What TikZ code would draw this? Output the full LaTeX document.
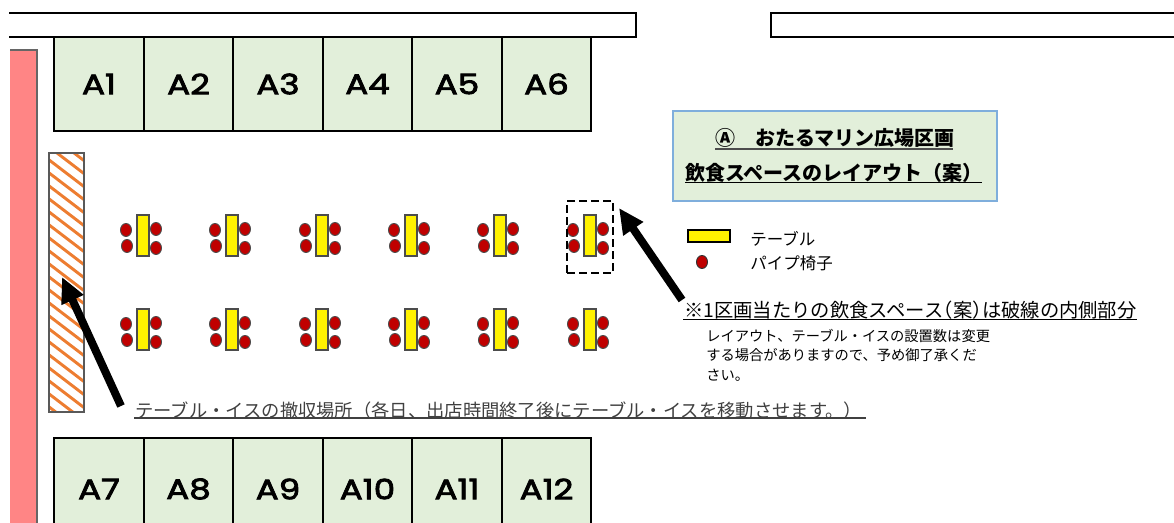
\documentclass[tikz,border=0pt]{standalone}
\usepackage{fontspec}
\setmainfont{Noto Sans CJK JP}
\newfontfamily\labfont[FakeStretch=1.22,FakeBold=3]{Poppins}
\usetikzlibrary{arrows.meta}
\definecolor{cellgreen}{HTML}{E2EFDA}
\definecolor{pinkbar}{HTML}{FF8585}
\definecolor{chairred}{HTML}{C00000}
\definecolor{hatchor}{HTML}{ED7D31}
\definecolor{boxblue}{HTML}{7FAEDC}
\definecolor{greytext}{HTML}{404040}
\newcommand{\px}[1]{\fontsize{\the\dimexpr#1pt*3/4\relax}{\the\dimexpr#1pt*9/10\relax}\selectfont}
\tikzset{
  x=0.75pt,y=-0.75pt,
  cell/.style={draw=black,line width=1.6pt,fill=cellgreen,minimum width=67.2pt,inner sep=0pt,font=\fontsize{21}{25}\selectfont\labfont},
  plain/.style={inner sep=0pt,anchor=base west,text=black},
  bigarrow/.style={line width=6pt,-{Triangle[length=19pt,width=17pt]}},
  rule/.style={line width=1.4pt,black},
  edge/.style={draw=black,line width=1.4pt},
  tbl/.style={draw=black!70,line width=0.8pt,fill=yellow},
  chair/.style={draw=black!70,line width=0.7pt,fill=chairred}
}
\newcommand{\seat}[2]{%
  \draw[tbl] (#1,#2) rectangle ++(12,41);
  \draw[chair] (#1-11,#2+15) ellipse [x radius=5.5,y radius=6.5];
  \draw[chair] (#1-10,#2+31) ellipse [x radius=5.5,y radius=6.5];
  \draw[chair] (#1+19,#2+14) ellipse [x radius=5.5,y radius=6.5];
  \draw[chair] (#1+19,#2+33) ellipse [x radius=5.5,y radius=6.5];
}
\begin{document}
\begin{tikzpicture}
\useasboundingbox (0,0) rectangle (1174,523);
% road outlines
\draw[edge] (9,13) -- (636,13) -- (636,37) -- (9,37);
\draw[edge] (1174,13) -- (771,13) -- (771,37) -- (1174,37);
% pink strip
\fill[pinkbar] (10,50) rectangle (37,523);
\draw[black!60,line width=0.8pt] (10,50) -- (37,50) -- (37,523);
% hatched area
\begin{scope}
\clip (49,153) rectangle (84,412);
\foreach \k in {-4,...,26}
  \draw[hatchor,line width=2.2pt] (40,140+\k*13) -- (95,182+\k*13);
\end{scope}
\draw[black!65,line width=0.9pt] (49,153) rectangle (84,412);
% stalls
\node[cell,minimum height=70.5pt] (a1) at (99,84) {A1};
\node[cell,minimum height=70.5pt] (a2) at (188.5,84) {A2};
\node[cell,minimum height=70.5pt] (a3) at (278,84) {A3};
\node[cell,minimum height=70.5pt] (a4) at (367.5,84) {A4};
\node[cell,minimum height=70.5pt] (a5) at (457,84) {A5};
\node[cell,minimum height=70.5pt] (a6) at (546.5,84) {A6};
\node[cell,minimum height=76.5pt] (a7) at (99,489) {A7};
\node[cell,minimum height=76.5pt] (a8) at (188.5,489) {A8};
\node[cell,minimum height=76.5pt] (a9) at (278,489) {A9};
\node[cell,minimum height=76.5pt] (a10) at (367.5,489) {A10};
\node[cell,minimum height=76.5pt] (a11) at (457,489) {A11};
\node[cell,minimum height=76.5pt] (a12) at (546.5,489) {A12};
% tables and chairs
\foreach \tx in {137,226,316,405,494,584}{\seat{\tx}{215}\seat{\tx}{309}}
% dashed outline
\node[draw=black,line width=2pt,dash pattern=on 6pt off 3pt,minimum width=34.5pt,minimum height=54pt,inner sep=0pt] (zone) at (590,237) {};
% title
\fill[cellgreen,draw=boxblue,line width=0.9pt] (673,111) rectangle (997,201);
\node[plain,font=\px{20}\bfseries] (t1) at (715,146) {Ⓐ　おたるマリン広場区画};
\node[plain,font=\px{20}\bfseries] (t2) at (685,180.5) {飲食スペースのレイアウト（案）};
\draw[line width=1pt,black!70] (715,149) -- (953,149);
\draw[line width=0.9pt] (685,182.5) -- (982,182.5);
% legend
\draw[draw=black,line width=0.8pt,fill=yellow] (688,230) rectangle (730,242);
\draw[chair,draw=black!80] (702,262) ellipse [x radius=5.5,y radius=6.5];
\node[plain,font=\px{16.5}] (lg1) at (750,246) {テーブル};
\node[plain,font=\px{16.5}] (lg2) at (750,270) {パイプ椅子};
% notes
\node[plain,font=\px{19.3}] (n1) at (684,318) {※1区画当たりの飲食スペース\kern-.5em（案）\kern-.5em は破線の内側部分};
\draw[rule] (683,319.5) -- (1137,319.5);
\node[plain,align=left,anchor=north west,font=\fontsize{10.7}{14.6}\selectfont] (n2) at (706,329) {レイアウト、テーブル・イスの設置数は変更\\する場合がありますので、予め御了承くだ\\さい。};
\node[plain,font=\px{18.3},text=greytext] (n3) at (135,417.5) {テーブル・イスの撤収場所（各日、出店時間終了後にテーブル・イスを移動させます。）};
\draw[line width=0.8pt,greytext] (134,418) -- (866,418);
% arrows
\coordinate (at1) at (682,300);
\coordinate (ah1) at (619,208);
\coordinate (at2) at (121,406);
\coordinate (ah2) at (62,277);
\draw[bigarrow] (at1) -- (ah1);
\draw[bigarrow] (at2) -- (ah2);
\end{tikzpicture}
\end{document}
